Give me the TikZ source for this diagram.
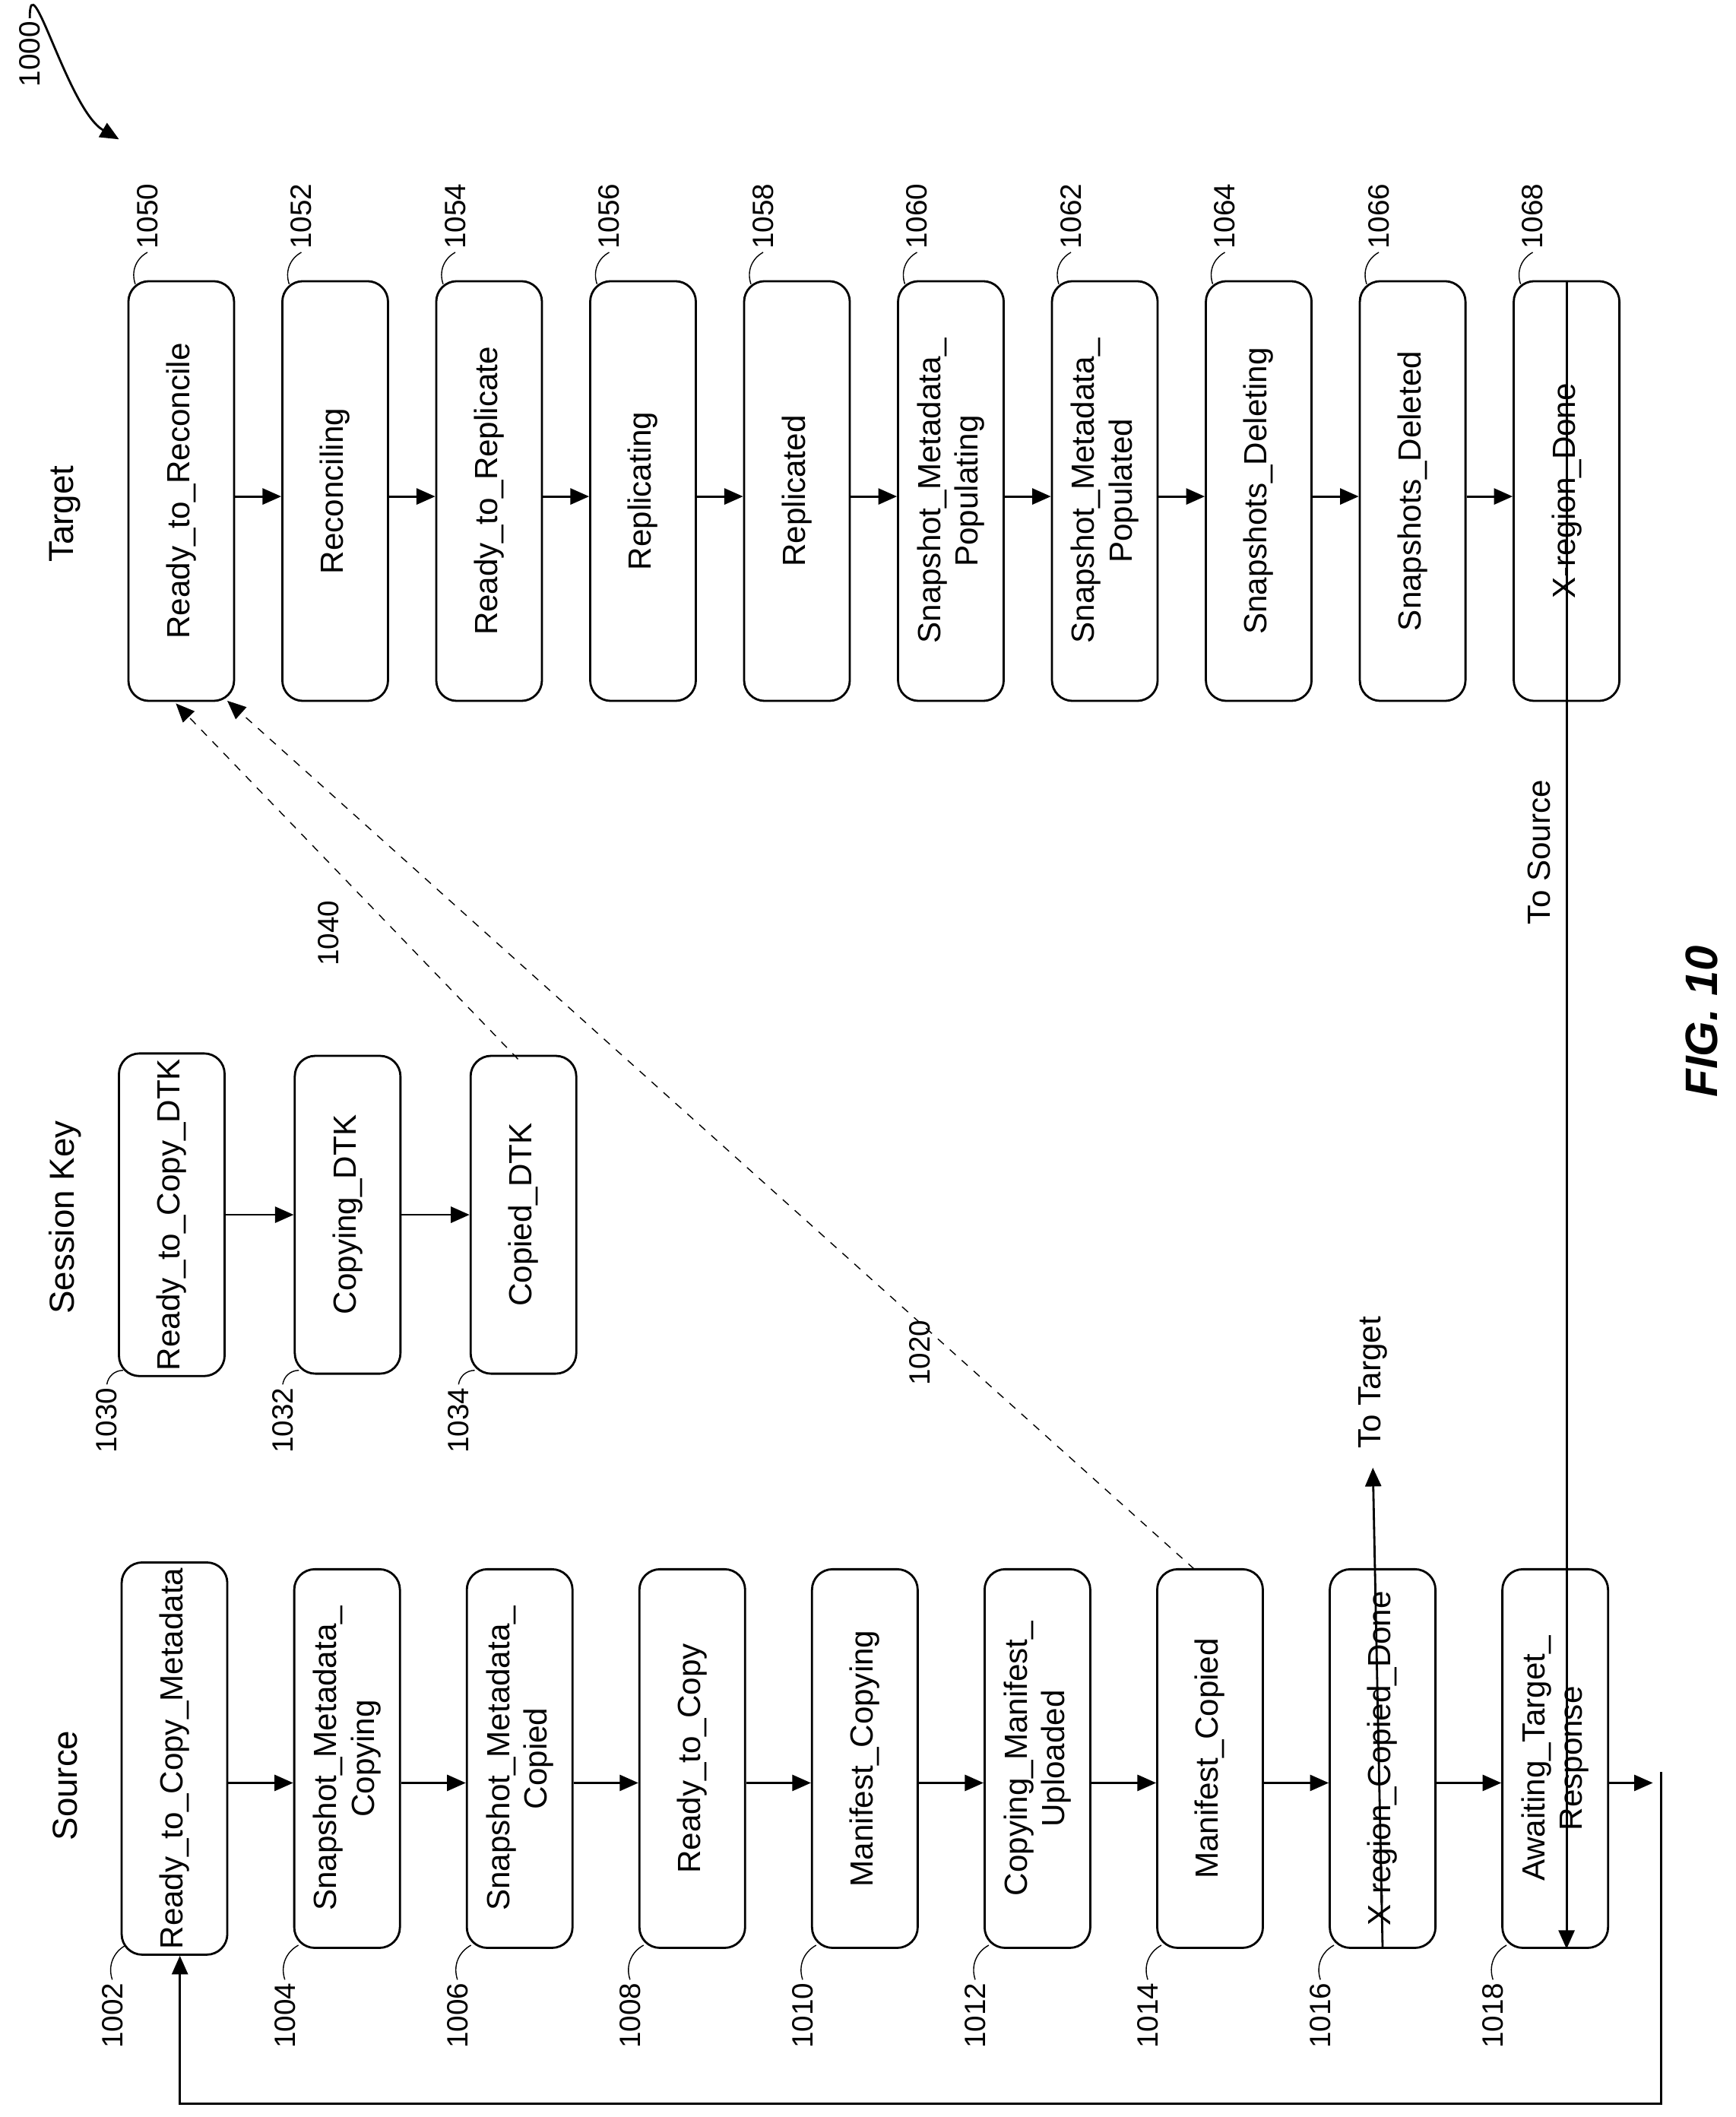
\documentclass[tikz,border=0pt]{standalone}
\usepackage{fontspec}
\setmainfont{Liberation Sans}
\usetikzlibrary{arrows.meta}
\tikzset{
  state/.style={draw,thick,rounded corners=0.27cm,rotate=90,align=center,
    minimum height=1.39cm,inner sep=2pt,font=\fontsize{12}{14}\selectfont},
  srcstate/.style={state,minimum width=4.98cm},
  keystate/.style={state,minimum width=4.18cm},
  tgtstate/.style={state,minimum width=5.52cm},
  num/.style={rotate=90,font=\fontsize{11}{13}\selectfont,inner sep=1pt},
  flow/.style={thick,-{Triangle[length=7pt,width=6pt]}},
  dashlink/.style={thin,dashed,-{Triangle[length=7pt,width=6pt]}},
  title/.style={rotate=90,font=\fontsize{13}{15}\selectfont}
}
\begin{document}
\begin{tikzpicture}[x=0.01779cm,y=-0.01779cm]
  \useasboundingbox (0,0) rectangle (1283,1565);
  % column titles
  \node[title] (TitleTgt) at (48,380) {Target};
  \node[title] (TitleKey) at (48,900) {Session Key};
  \node[title] (TitleSrc) at (48,1320) {Source};
  \node[rotate=90,font=\bfseries\itshape\fontsize{17}{19}\selectfont] (Fig) at (1258,755) {FIG. 10};
  \node[num] (Fig1000) at (22,40) {1000};
  \draw[flow] (Fig1000.east) to[out=90,in=150] (88,103);
  % source states
  \foreach \n/\t [count=\i from 1] in {1002/{Ready\_to\_Copy\_Metadata},
      1004/{Snapshot\_Metadata\_\\Copying},1006/{Snapshot\_Metadata\_\\Copied},
      1008/{Ready\_to\_Copy},1010/{Manifest\_Copying},
      1012/{Copying\_Manifest\_\\Uploaded},1014/{Manifest\_Copied},
      1016/{X-region\_Copied\_Done},1018/{Awaiting\_Target\_\\Response}}{%
    \pgfmathsetmacro\sx{129+127.6*(\i-1)}
    \node[srcstate] (S\i) at (\sx,1300) {\t};
    \node[num] (S\i n) at (\sx-46,1490) {\n};
    \draw (S\i n.east) to[bend left=40] (\sx-36,1438);
  }
  \foreach \i [evaluate=\i as \j using int(\i+1)] in {1,...,8}
    \draw[flow] (S\i.south |- 0,1318) -- (S\j.north |- 0,1318);
  % session key states
  \foreach \n/\t [count=\i from 1] in {1030/{Ready\_to\_Copy\_DTK},
      1032/{Copying\_DTK},1034/{Copied\_DTK}}{%
    \pgfmathsetmacro\kx{127+130*(\i-1)}
    \node[keystate] (K\i) at (\kx,898) {\t};
    \node[num] (K\i n) at (\kx-48,1050) {\n};
    \draw (K\i n.east) to[bend left=40] (\kx-36,1013);
  }
  \draw[flow] (K1) -- (K2);
  \draw[flow] (K2) -- (K3);
  % target states
  \foreach \n/\t [count=\i from 1] in {1050/{Ready\_to\_Reconcile},
      1052/{Reconciling},1054/{Ready\_to\_Replicate},1056/{Replicating},
      1058/{Replicated},1060/{Snapshot\_Metadata\_\\Populating},
      1062/{Snapshot\_Metadata\_\\Populated},1064/{Snapshots\_Deleting},
      1066/{Snapshots\_Deleted},1068/{X-region\_Done}}{%
    \pgfmathsetmacro\tx{134+113.8*(\i-1)}
    \node[tgtstate] (T\i) at (\tx,363) {\t};
    \node[num] (T\i n) at (\tx-25,160) {\n};
    \draw (T\i n.west) to[bend right=40] (\tx-34,210);
  }
  \foreach \i [evaluate=\i as \j using int(\i+1)] in {1,...,9}
    \draw[flow] (T\i.south |- 0,367) -- (T\j.north |- 0,367);
  % dashed links to target
  \coordinate (DashA) at (883,1160);
  \coordinate (DashB) at (383,783);
  \draw[dashlink] (DashA) -- (168,518);
  \draw[dashlink] (DashB) -- (130,520);
  \node[num] (L1020) at (680,1000) {1020};
  \node[num] (L1040) at (243,690) {1040};
  % cross links
  \coordinate (ToTgt) at (1015,1085);
  \draw[flow] (S8.west) -- (ToTgt);
  \node[title,font=\fontsize{12}{14}\selectfont] (ToTgtLbl) at (1015,1022) {To Target};
  \draw[flow] (T10.east) -- (T10.east |- S9.west);
  \node[title,font=\fontsize{12}{14}\selectfont] (ToSrcLbl) at (1138,630) {To Source};
  % loop back
  \coordinate (LoopA) at (1228,1310);
  \coordinate (LoopB) at (1228,1555);
  \coordinate (LoopC) at (133,1555);
  \draw[flow] (S9.south |- 0,1318) -- (1222,1318);
  \draw[flow] (LoopA) -- (LoopB) -- (LoopC) -- (S1.west -| LoopC);
\end{tikzpicture}
\end{document}
